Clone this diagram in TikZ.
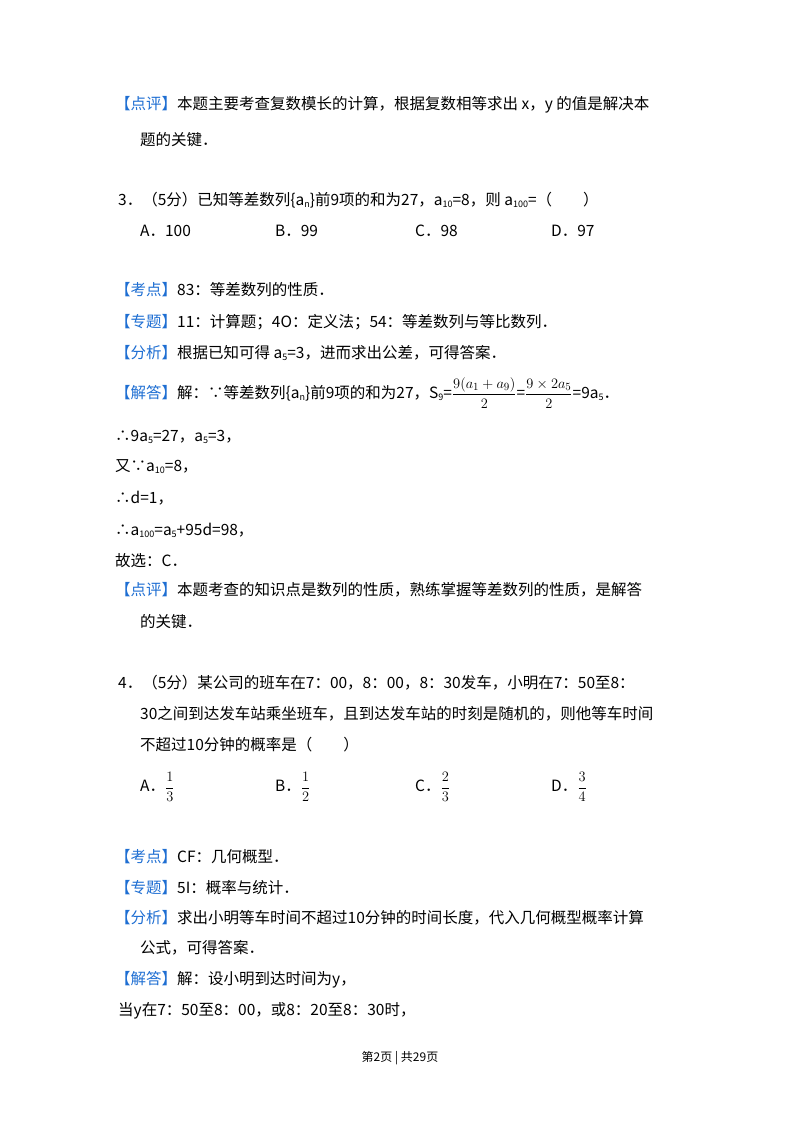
\documentclass[tikz,border=0pt]{standalone}
\usepackage{amsmath}
\usepackage{fontspec}
\setmainfont{Noto Sans CJK SC}
\definecolor{tagblue}{RGB}{30,110,210}
\newcommand{\lo}[1]{\raisebox{-2pt}{\fontsize{9}{9}\selectfont #1}}
\newcommand{\tg}[1]{\textcolor{tagblue}{【#1】}}
\begin{document}
\begin{tikzpicture}[x=1pt,y=-1pt,every node/.style={anchor=west,inner sep=0pt,font=\fontsize{15.5}{18}\selectfont}]
\useasboundingbox (0,0) rectangle (800,1132);
\node (l1) at (115,105) {\tg{点评}本题主要考查复数模长的计算，根据复数相等求出 x，y 的值是解决本};
\node (l2) at (140,140) {题的关键．};
\node (q3) at (118,200) {3．（5分）已知等差数列\{a\lo{n}\}前9项的和为27，a\lo{10}=8，则 a\lo{100}=（\hspace{2em}）};
\node (a3) at (140,231) {A．100};
\node (b3) at (275,231) {B．99};
\node (c3) at (415,231) {C．98};
\node (d3) at (551,231) {D．97};
\node (k3) at (115,290) {\tg{考点}83：等差数列的性质．};
\node (z3) at (115,322) {\tg{专题}11：计算题；4O：定义法；54：等差数列与等比数列．};
\node (f3) at (115,353) {\tg{分析}根据已知可得 a\lo{5}=3，进而求出公差，可得答案．};
\node (j3) at (115,393) {\tg{解答}解：∵等差数列\{a\lo{n}\}前9项的和为27，S\lo{9}=$\dfrac{9(a_1+a_9)}{2}$=$\dfrac{9\times 2a_5}{2}$=9a\lo{5}．};
\node (s1) at (115,437) {∴9a\lo{5}=27，a\lo{5}=3，};
\node (s2) at (115,467) {又∵a\lo{10}=8，};
\node (s3) at (115,498) {∴d=1，};
\node (s4) at (115,530) {∴a\lo{100}=a\lo{5}+95d=98，};
\node (s5) at (115,561) {故选：C．};
\node (p3) at (115,590) {\tg{点评}本题考查的知识点是数列的性质，熟练掌握等差数列的性质，是解答};
\node (p3b) at (140,622) {的关键．};
\node (q4) at (118,683) {4．（5分）某公司的班车在7：00，8：00，8：30发车，小明在7：50至8：};
\node (q4b) at (140,714) {30之间到达发车站乘坐班车，且到达发车站的时刻是随机的，则他等车时间};
\node (q4c) at (140,745) {不超过10分钟的概率是（\hspace{2em}）};
\node (a4) at (140,787) {A．$\dfrac{1}{3}$};
\node (b4) at (275,787) {B．$\dfrac{1}{2}$};
\node (c4) at (415,787) {C．$\dfrac{2}{3}$};
\node (d4) at (551,787) {D．$\dfrac{3}{4}$};
\node (k4) at (115,857) {\tg{考点}CF：几何概型．};
\node (z4) at (115,888) {\tg{专题}5I：概率与统计．};
\node (f4) at (115,918) {\tg{分析}求出小明等车时间不超过10分钟的时间长度，代入几何概型概率计算};
\node (f4b) at (140,948) {公式，可得答案．};
\node (j4) at (115,980) {\tg{解答}解：设小明到达时间为y，};
\node (j4b) at (118,1011) {当y在7：50至8：00，或8：20至8：30时，};
\node[anchor=center,font=\fontsize{12}{14}\selectfont] (pg) at (400,1058) {第2页 | 共29页};
\end{tikzpicture}
\end{document}
